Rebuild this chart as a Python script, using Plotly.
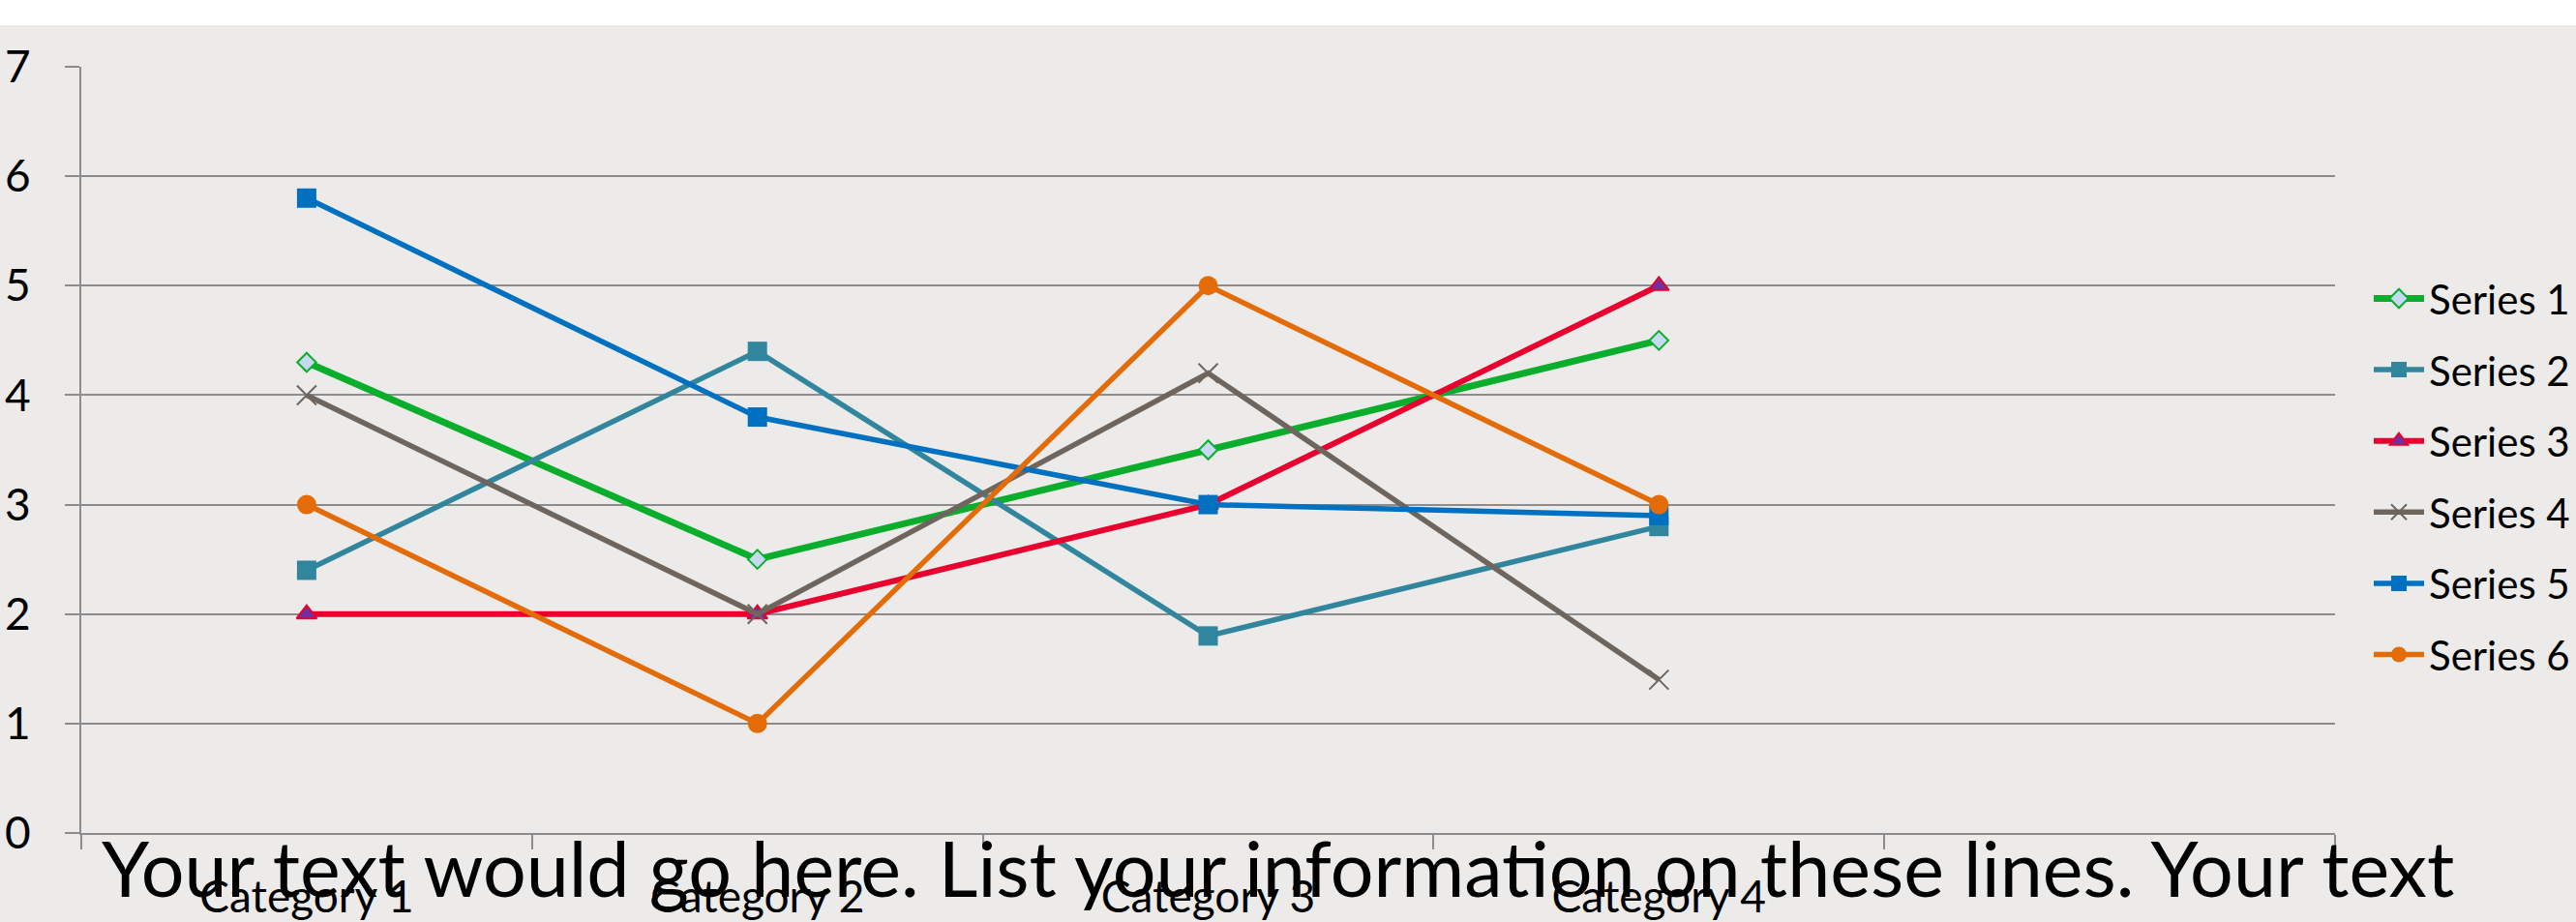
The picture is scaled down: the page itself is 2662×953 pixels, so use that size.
import plotly.graph_objects as go

# ---- data -------------------------------------------------------------
categories = ["Category 1", "Category 2", "Category 3", "Category 4"]
n_slots = 5  # the category axis leaves one empty slot on the right

series_names = ["Series 1", "Series 2", "Series 3", "Series 4", "Series 5", "Series 6"]
series_1 = [4.3, 2.5, 3.5, 4.5]
series_2 = [2.4, 4.4, 1.8, 2.8]
series_3 = [2.0, 2.0, 3.0, 5.0]
series_4 = [4.0, 2.0, 4.2, 1.4]
series_5 = [5.8, 3.8, 3.0, 2.9]
series_6 = [3.0, 1.0, 5.0, 3.0]

footer_text = "Your text would go here. List your information on these lines. Your text"

# ---- styling ----------------------------------------------------------
FONT = "Lato, 'Open Sans', sans-serif"
BG = "#ECEBE9"
GRID = "#8C8C8C"

styles = [
    dict(color="#0BAE2C", width=7, symbol="diamond", size=15, fill="#C6D9F1", edge="#0BAE2C", edge_w=2),
    dict(color="#31869E", width=5.5, symbol="square", size=20, fill="#31869E", edge="#31869E", edge_w=0),
    dict(color="#E8002F", width=6, symbol="triangle-up", size=18, fill="#7030A0", edge="#E8002F", edge_w=2),
    dict(color="#6E655E", width=5.5, symbol="x-thin", size=20, fill="#6E655E", edge="#6E655E", edge_w=2),
    dict(color="#0070C0", width=5.5, symbol="square", size=20, fill="#0070C0", edge="#0070C0", edge_w=0),
    dict(color="#E36C09", width=5.5, symbol="circle", size=20, fill="#E36C09", edge="#E36C09", edge_w=0),
]

x_pos = list(range(1, len(categories) + 1))
all_series = [series_1, series_2, series_3, series_4, series_5, series_6]

fig = go.Figure()
for name, values, st in zip(series_names, all_series, styles):
    fig.add_trace(go.Scatter(
        x=x_pos, y=values, name=name, legendgroup=name,
        mode="lines+markers",
        line=dict(color=st["color"], width=st["width"]),
        marker=dict(symbol=st["symbol"], size=st["size"], color=st["fill"],
                    line=dict(color=st["edge"], width=st["edge_w"])),
    ))

W, H = 2662, 953
M_L, M_R, M_T, M_B = 84, 249, 69, 92
plot_w = W - M_L - M_R
plot_h = H - M_T - M_B
band_px = 26  # white strip along the top edge

fig.update_layout(
    width=W, height=H,
    margin=dict(l=M_L, r=M_R, t=M_T, b=M_B, pad=0, autoexpand=False),
    paper_bgcolor=BG, plot_bgcolor=BG,
    font=dict(family=FONT, color="#000000"),
    showlegend=True,
    legend=dict(
        x=(2448 - M_L) / plot_w, xanchor="left", y=0.465, yanchor="middle",
        font=dict(family=FONT, size=42, color="#000000"),
        bgcolor="rgba(0,0,0,0)", tracegroupgap=16, itemwidth=52,
    ),
    shapes=[dict(
        type="rect", xref="paper", yref="paper",
        x0=-0.1, x1=1.2, y0=1 + (M_T - band_px) / plot_h, y1=1.2,
        fillcolor="#FFFFFF", line=dict(width=0), layer="above",
    )],
    annotations=[dict(
        text=footer_text, xref="paper", yref="paper",
        x=(103 - M_L) / plot_w, xanchor="left",
        y=-(946 - (H - M_B)) / plot_h, yanchor="bottom",
        showarrow=False, font=dict(family=FONT, size=79, color="#000000"),
    )],
)

fig.update_xaxes(
    range=[0.5, n_slots + 0.5],
    tickmode="array", tickvals=x_pos, ticktext=categories,
    ticks="", showgrid=False, zeroline=False,
    showline=True, linecolor=GRID, linewidth=2,
    tickfont=dict(family=FONT, size=46, color="#000000"),
    ticklabelstandoff=25,
    minor=dict(tickmode="array", tickvals=[i + 0.5 for i in range(n_slots + 1)],
               ticks="outside", ticklen=15, tickwidth=2, tickcolor=GRID, showgrid=False),
)
fig.update_yaxes(
    range=[0, 7], tickmode="linear", tick0=0, dtick=1,
    showgrid=True, gridcolor=GRID, gridwidth=2, zeroline=False,
    showline=True, linecolor=GRID, linewidth=2,
    ticks="outside", ticklen=15, tickwidth=2, tickcolor=GRID,
    tickfont=dict(family=FONT, size=46, color="#000000"),
    ticklabelstandoff=26,
)

fig.write_html("out.html")
